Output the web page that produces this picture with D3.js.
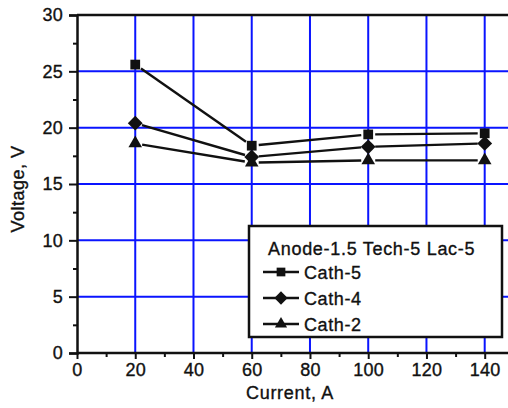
<!DOCTYPE html>
<html>
<head>
<meta charset="utf-8">
<script src="https://cdn.jsdelivr.net/npm/d3@7"></script>
<style>
  body { margin: 0; background: #fff; }
  text { font-family: "Liberation Sans", Arial, sans-serif; fill: #111; stroke: #111; stroke-width: 0.35px; }
</style>
</head>
<body>
<div id="chart"></div>
<script>
// data
var currents = [20, 60, 100, 140];
var cath5 = [25.6, 18.4, 19.4, 19.5];
var cath4 = [20.4, 17.4, 18.3, 18.6];
var cath2 = [18.6, 16.9, 17.1, 17.1];
var seriesNames = ["Cath-5", "Cath-4", "Cath-2"];
var xTicks = [0, 20, 40, 60, 80, 100, 120, 140];
var yTicks = [0, 5, 10, 15, 20, 25, 30];
var legendTitle = "Anode-1.5 Tech-5 Lac-5";

// wide diamond (d3's own is narrow)
var wideDiamond = {
  draw: function (ctx, size) {
    var r = Math.sqrt(size / 2);
    ctx.moveTo(0, -r); ctx.lineTo(r, 0); ctx.lineTo(0, r); ctx.lineTo(-r, 0); ctx.closePath();
  }
};
var seriesSymbols = [d3.symbolSquare, wideDiamond, d3.symbolTriangle];
var symbolSizes = [95, 110, 80];

var W = 508, H = 408;
var svg = d3.select("#chart").append("svg").attr("width", W).attr("height", H);

var x = d3.scaleLinear().domain([0, 148]).range([77, 508]);
var y = d3.scaleLinear().domain([0, 30]).range([353, 15]);

// grid
svg.append("g").selectAll("line").data(xTicks.slice(1))
  .join("line")
  .attr("x1", d => x(d)).attr("x2", d => x(d))
  .attr("y1", y(30)).attr("y2", y(0))
  .attr("stroke", "#0a14ff").attr("stroke-width", 2);
svg.append("g").selectAll("line").data(yTicks.slice(1, -1))
  .join("line")
  .attr("x1", x(0)).attr("x2", W)
  .attr("y1", d => y(d)).attr("y2", d => y(d))
  .attr("stroke", "#0a14ff").attr("stroke-width", 2);

// top line
svg.append("line")
  .attr("x1", x(0)).attr("x2", W).attr("y1", y(30)).attr("y2", y(30))
  .attr("stroke", "#111").attr("stroke-width", 2.5);

// axes
var xAxis = svg.append("g").attr("transform", "translate(0," + y(0) + ")")
  .call(d3.axisBottom(x).tickValues(xTicks).tickSize(6).tickPadding(4));
svg.append("g").attr("transform", "translate(0," + y(0) + ")")
  .call(d3.axisBottom(x).tickValues([10, 30, 50, 70, 90, 110, 130]).tickSize(4).tickFormat(""))
  .call(g => g.select(".domain").remove());
var yAxis = svg.append("g").attr("transform", "translate(" + x(0) + ",0)")
  .call(d3.axisLeft(y).tickValues(yTicks).tickSize(8).tickPadding(6));
svg.append("g").attr("transform", "translate(" + x(0) + ",0)")
  .call(d3.axisLeft(y).tickValues([2.5, 7.5, 12.5, 17.5, 22.5, 27.5]).tickSize(4).tickFormat(""))
  .call(g => g.select(".domain").remove());

svg.selectAll(".domain").attr("stroke", "#111").attr("stroke-width", 2.5);
svg.selectAll(".tick line").attr("stroke", "#111").attr("stroke-width", 2);
svg.selectAll(".tick text").attr("font-size", 18).attr("fill", "#111")
  .attr("font-family", "Liberation Sans, Arial, sans-serif")
  .attr("letter-spacing", 0.3);
xAxis.select(".domain").attr("d", "M" + x(0) + ",0H" + W);

// axis titles
svg.append("text").attr("x", 290).attr("y", 399).attr("text-anchor", "middle")
  .attr("font-size", 18).attr("letter-spacing", 0.7).text("Current, A");
svg.append("text").attr("transform", "translate(24," + 189 + ") rotate(-90)")
  .attr("text-anchor", "middle").attr("font-size", 18).attr("letter-spacing", 0.5).text("Voltage, V");

// series
var allSeries = [cath5, cath4, cath2];
var gap = 7;
allSeries.forEach(function (vals, si) {
  var pts = currents.map((c, i) => [x(c), y(vals[i])]);
  for (var i = 0; i < pts.length - 1; i++) {
    var a = pts[i], b = pts[i + 1];
    var dx = b[0] - a[0], dy = b[1] - a[1], len = Math.hypot(dx, dy);
    var ux = dx / len, uy = dy / len;
    svg.append("line")
      .attr("x1", a[0] + ux * gap).attr("y1", a[1] + uy * gap)
      .attr("x2", b[0] - ux * gap).attr("y2", b[1] - uy * gap)
      .attr("stroke", "#111").attr("stroke-width", 2.4);
  }
  svg.append("g").selectAll("path").data(pts).join("path")
    .attr("transform", d => "translate(" + d[0] + "," + d[1] + ")")
    .attr("d", d3.symbol().type(seriesSymbols[si]).size(symbolSizes[si]))
    .attr("fill", "#111");
});

// legend
var lg = svg.append("g");
lg.append("rect").attr("x", 249).attr("y", 226).attr("width", 253).attr("height", 111)
  .attr("fill", "#fff").attr("stroke", "#111").attr("stroke-width", 2.5);
lg.append("text").attr("x", 268).attr("y", 255).attr("font-size", 18)
  .attr("letter-spacing", 0.7).text(legendTitle);
seriesNames.forEach(function (name, i) {
  var ly = 272 + i * 26;
  lg.append("line").attr("x1", 263).attr("x2", 299).attr("y1", ly).attr("y2", ly)
    .attr("stroke", "#111").attr("stroke-width", 2.4);
  lg.append("path").attr("transform", "translate(281," + ly + ")")
    .attr("d", d3.symbol().type(seriesSymbols[i]).size(symbolSizes[i] * 0.8)).attr("fill", "#111");
  lg.append("text").attr("x", 304).attr("y", ly + 7).attr("font-size", 18)
    .attr("letter-spacing", 0.6).text(name);
});
</script>
</body>
</html>
